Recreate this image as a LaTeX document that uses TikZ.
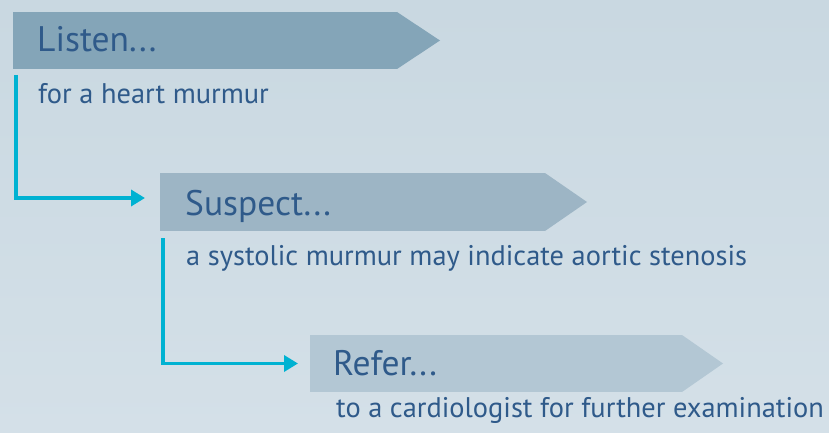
\documentclass[tikz,border=0pt]{standalone}
\usepackage{fontspec}
\setmainfont{PT Sans}
\usetikzlibrary{arrows.meta}
\definecolor{bgtop}{HTML}{C9D8E1}
\definecolor{bgbot}{HTML}{D4E0E8}
\definecolor{boxa}{HTML}{84A5B8}
\definecolor{boxb}{HTML}{9DB5C5}
\definecolor{boxc}{HTML}{B3C7D4}
\definecolor{txt}{HTML}{2F5A8A}
\definecolor{conn}{HTML}{00B2D2}
\tikzset{
  boxbody/.style={inner sep=0pt, outer sep=0pt, minimum width=385pt, minimum height=57pt, anchor=north west},
  title/.style={anchor=base west, inner sep=0pt, text=txt, font=\fontsize{35.5}{38}\selectfont},
  sub/.style={anchor=base west, inner sep=0pt, text=txt, font=\fontsize{28.4}{32}\selectfont},
  connector/.style={draw=conn, line width=3.6pt, -{Triangle[length=14pt,width=16pt]}}
}
\begin{document}
\begin{tikzpicture}[x=1pt,y=-1pt]
\shade[top color=bgtop, bottom color=bgbot] (0,0) rectangle (829,433);
\useasboundingbox (0,0) rectangle (829,433);
% boxes
\node[boxbody, fill=boxa, minimum width=384pt] (b1) at (13,12) {};
\fill[boxa] (b1.north east) -- (440,40.5) -- (b1.south east) -- cycle;
\node[boxbody, fill=boxb, minimum width=385pt, minimum height=58pt] (b2) at (160,173) {};
\fill[boxb] (b2.north east) -- (587,202) -- (b2.south east) -- cycle;
\node[boxbody, fill=boxc, minimum width=372pt, minimum height=57pt] (b3) at (310,335) {};
\fill[boxc] (b3.north east) -- (723,363.5) -- (b3.south east) -- cycle;
% titles
\node[title] (t1) at (37,52) {Listen...};
\node[title] (t2) at (185,215) {Suspect...};
\node[title] (t3) at (333,375) {Refer...};
% subtexts
\node[sub] (s1) at (38,104) {for a heart murmur};
\node[sub] (s2) at (186,265) {a systolic murmur may indicate aortic stenosis};
\node[sub] (s3) at (336,417) {to a cardiologist for further examination};
% connectors
\coordinate (c1) at (16,75);
\coordinate (c2) at (163,238);
\draw[connector, shorten >=15pt] (c1) |- ([yshift=4pt]b2.west);
\draw[connector, shorten >=12pt] (c2) |- (b3.west);
\end{tikzpicture}
\end{document}
